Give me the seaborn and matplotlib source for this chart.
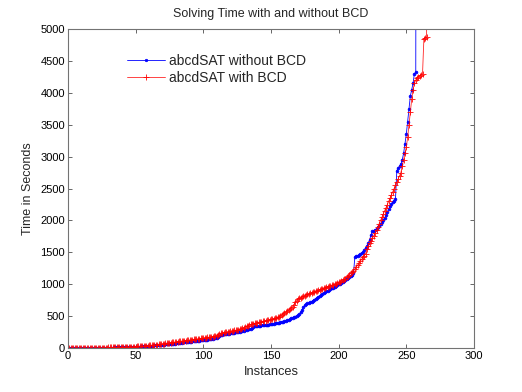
import numpy as np
import pandas as pd
import matplotlib
matplotlib.use("Agg")
import matplotlib.pyplot as plt
import seaborn as sns

sns.set_theme(style="ticks")
plt.rcParams['font.family'] = ['Liberation Sans', 'DejaVu Sans']

# sorted solving times (seconds) per instance
time_without_bcd = [
    1, 1, 1, 1, 1, 2, 2, 2, 2, 2,
    3, 3, 3, 3, 3, 4, 4, 4, 4, 5,
    5, 5, 5, 6, 6, 6, 7, 7, 7, 8,
    8, 9, 9, 10, 10, 11, 11, 12, 12, 13,
    14, 14, 15, 16, 17, 17, 18, 19, 20, 21,
    22, 23, 24, 26, 27, 28, 30, 31, 33, 35,
    36, 38, 40, 42, 44, 46, 48, 50, 52, 54,
    56, 58, 60, 62, 64, 66, 68, 70, 72, 75,
    78, 80, 82, 85, 88, 90, 92, 95, 98, 100,
    103, 106, 108, 110, 112, 115, 118, 120, 122, 125,
    128, 130, 133, 136, 140, 145, 150, 155, 158, 162,
    175, 195, 205, 210, 214, 218, 222, 225, 228, 232,
    236, 240, 244, 248, 252, 256, 260, 265, 270, 275,
    280, 286, 292, 298, 305, 315, 330, 340, 345, 350,
    352, 354, 356, 358, 360, 362, 365, 368, 372, 376,
    380, 384, 388, 392, 396, 400, 405, 410, 415, 420,
    428, 436, 445, 455, 465, 475, 485, 495, 505, 515,
    530, 560, 600, 640, 670, 690, 700, 705, 715, 730,
    745, 760, 775, 790, 805, 820, 835, 850, 862, 875,
    888, 900, 912, 924, 936, 948, 960, 972, 985, 998,
    1010, 1025, 1040, 1055, 1070, 1085, 1100, 1115, 1130, 1150,
    1170, 1430, 1440, 1450, 1460, 1470, 1490, 1510, 1540, 1570,
    1600, 1640, 1700, 1780, 1830, 1840, 1850, 1870, 1890, 1910,
    1940, 1970, 2000, 2040, 2080, 2130, 2180, 2230, 2260, 2290,
    2310, 2330, 2780, 2820, 2850, 2880, 2950, 3050, 3200, 3350,
    3550, 3750, 3950, 4050, 4150, 4300, 4320, 20000,
]

time_with_bcd = [
    2, 2, 2, 2, 2, 3, 3, 3, 3, 3,
    4, 4, 4, 4, 5, 5, 5, 5, 6, 6,
    6, 7, 7, 7, 8, 8, 8, 9, 9, 10,
    10, 11, 11, 12, 12, 13, 13, 14, 15, 15,
    16, 17, 18, 19, 20, 21, 22, 23, 24, 25,
    26, 27, 28, 30, 31, 33, 35, 37, 39, 41,
    43, 45, 47, 50, 53, 56, 59, 62, 65, 68,
    71, 74, 77, 80, 83, 86, 89, 92, 95, 98,
    101, 104, 107, 110, 113, 116, 119, 122, 125, 128,
    131, 134, 137, 140, 143, 146, 149, 152, 155, 158,
    161, 164, 167, 170, 173, 176, 180, 185, 190, 195,
    210, 225, 235, 240, 244, 248, 252, 256, 260, 264,
    268, 272, 276, 280, 285, 290, 295, 300, 310, 320,
    330, 340, 350, 360, 370, 378, 385, 390, 395, 400,
    405, 410, 415, 420, 425, 430, 435, 440, 445, 450,
    455, 460, 465, 470, 480, 490, 500, 515, 530, 545,
    560, 575, 590, 605, 625, 650, 680, 715, 745, 765,
    780, 790, 800, 810, 820, 830, 840, 850, 860, 868,
    876, 884, 892, 900, 908, 916, 924, 932, 940, 948,
    956, 964, 972, 980, 988, 996, 1004, 1012, 1020, 1030,
    1040, 1050, 1060, 1075, 1090, 1110, 1130, 1150, 1170, 1190,
    1210, 1240, 1270, 1300, 1330, 1360, 1390, 1420, 1450, 1480,
    1560, 1600, 1640, 1680, 1720, 1760, 1800, 1850, 1900, 1950,
    2000, 2050, 2100, 2150, 2200, 2250, 2300, 2350, 2400, 2450,
    2500, 2550, 2600, 2650, 2700, 2750, 2850, 2950, 3050, 3150,
    3300, 3500, 3700, 3900, 4050, 4150, 4200, 4230, 4250, 4270,
    4280, 4300, 4850, 4860, 4870, 20000,
]

x_ticks = [0, 50, 100, 150, 200, 250, 300]
y_ticks = [0, 500, 1000, 1500, 2000, 2500, 3000, 3500, 4000, 4500, 5000]

df_a = pd.DataFrame({"Instance": np.arange(1, len(time_without_bcd) + 1),
                     "Time": time_without_bcd})
df_b = pd.DataFrame({"Instance": np.arange(1, len(time_with_bcd) + 1),
                     "Time": time_with_bcd})

fig = plt.figure(figsize=(5.22, 3.92), dpi=100)
ax = fig.add_axes([0.13, 0.112, 0.778, 0.814])

# seaborn gives markers a white edge by default, so set the edge colour
sns.lineplot(data=df_a, x="Instance", y="Time", ax=ax, color="blue",
             linewidth=0.6, marker=".", markersize=4, markeredgewidth=0.5,
             markeredgecolor="blue", markerfacecolor="blue",
             label="abcdSAT without BCD")
sns.lineplot(data=df_b, x="Instance", y="Time", ax=ax, color="red",
             linewidth=0.6, marker="+", markersize=5, markeredgewidth=0.7,
             markeredgecolor="red", alpha=0.85,
             label="abcdSAT with BCD")

ax.set_xlim(0, 300)
ax.set_ylim(0, 5000)
ax.set_xticks(x_ticks)
ax.set_yticks(y_ticks)
ax.tick_params(direction="in", length=3, width=0.6, labelsize=8, colors="0.3",
               labelcolor="black", top=True, right=True, pad=2)
for sp in ax.spines.values():
    sp.set_visible(True)
    sp.set_color("0.45")
    sp.set_linewidth(0.8)

ax.set_title("Solving Time with and without BCD", fontsize=9, pad=9)
ax.set_xlabel("Instances", fontsize=9.3, labelpad=4)
ax.set_ylabel("Time in Seconds", fontsize=9, labelpad=5)

leg = ax.legend(loc="upper left", bbox_to_anchor=(0.115, 0.96), frameon=False,
                fontsize=10, handlelength=2.7, handletextpad=0.35,
                labelspacing=0.2, markerscale=0.9)

fig.savefig("out.png", dpi=100)
